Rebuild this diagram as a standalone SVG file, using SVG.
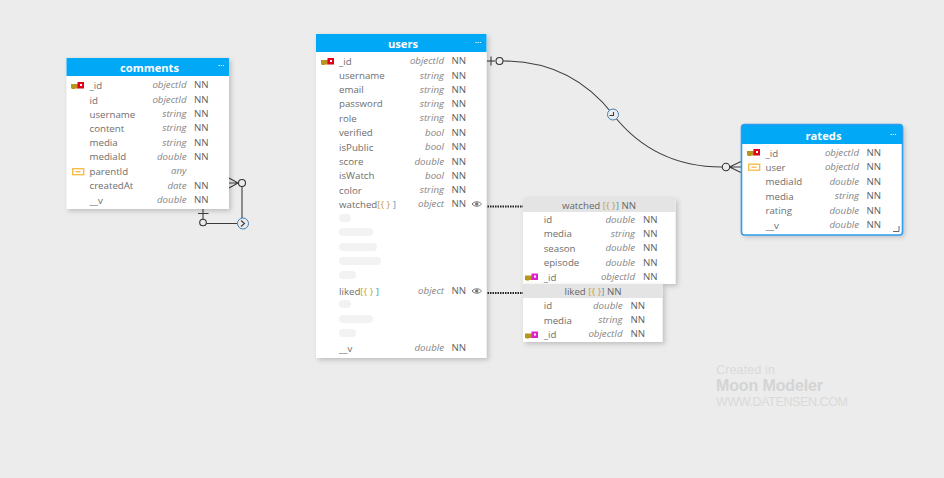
<svg xmlns="http://www.w3.org/2000/svg" width="944" height="478" viewBox="0 0 944 478">
<style>
text{font-family:"Open Sans","Liberation Sans",sans-serif;font-size:9.7px}
.n{fill:#6e6e6e}
.t{fill:#858585;font-style:italic;text-anchor:end}
.k{fill:#5f5f5f}
.h{fill:#fff;font-weight:700;font-size:11.200px;text-anchor:middle}
.s{fill:#666;text-anchor:middle}
.b{fill:#fff}
.hd{fill:#00a8f5}
.sub{fill:#e4e4e4}
.p{fill:#f2f2f2}
.c{fill:none;stroke:#3c3c3c;stroke-width:1.1}
.d{fill:none;stroke:#222;stroke-width:2;stroke-dasharray:1.5 1}
.o{fill:#ececec;stroke:#333;stroke-width:1.1}
.y{fill:#c9a02e}
.w{fill:#dadada;font-family:"Liberation Sans",sans-serif}
</style>
<defs>
<filter id="sh" x="-10%" y="-10%" width="125%" height="125%"><feDropShadow dx="2" dy="2" stdDeviation="2.5" flood-color="#000" flood-opacity=".2"/></filter>
<g id="pk"><rect x="0" y="2" width="7" height="4.500" fill="#b8951f"/><rect x="1" y="5" width="3" height="2" fill="#b8951f"/><rect x="6.500" y="0" width="6.500" height="6.500" fill="#e2001a"/><rect x="9" y="2" width="2" height="2" fill="#fff"/></g>
<g id="pf"><rect x="0" y="2" width="7" height="4.500" fill="#b8951f"/><rect x="1" y="5" width="3" height="2" fill="#b8951f"/><rect x="6.500" y="0" width="6.500" height="6.500" fill="#e020d0"/><rect x="9" y="2" width="2" height="2" fill="#fff"/></g>
<g id="fk"><rect x=".7" y=".7" width="11" height="6" fill="none" stroke="#f5b942" stroke-width="1.300"/><path d="M3.500 3.700h5" stroke="#f5b942" stroke-width="1.300"/></g>
<g id="eye"><path d="M472 0c2.500-3 7-3 9.500 0c-2.500 3-7 3-9.500 0z" fill="none" stroke="#777" stroke-width="1"/><circle cx="476.700" cy="0" r="1.700" fill="#777"/></g>
<g id="dots"><path d="M0 0h1.200M2.200 0h1.200M4.400 0h1.200" stroke="#fff" stroke-width="1"/></g>
</defs>
<rect width="944" height="478" fill="#ececec"/>

<g id="connectors">
<path class="c" d="M487 61H495"/>
<path class="c" d="M491 56.500V65.500"/>
<path class="c" d="M503 61C555 61 590 85 613 114.500C636 144 670 167 722 167"/>
<circle class="o" cx="499.500" cy="61" r="3.500"/>
<circle cx="613" cy="114.500" r="5.500" fill="#ececec" stroke="#3f7fb8" stroke-width="1"/>
<path class="c" d="M609.500 115.500h4v-3.500"/>
<circle class="o" cx="726" cy="167" r="3.700"/>
<path class="c" d="M729.500 167L741 161.500M729.500 167H741M729.500 167L741 172.500"/>
<path class="c" d="M242 187V218M237.500 223.500H206.500"/>
<path class="c" d="M229 178L238 183L229 188M229 183H238"/>
<circle class="o" cx="242" cy="183" r="3.500"/>
<circle cx="243" cy="223.500" r="5.500" fill="#ececec" stroke="#3f7fb8" stroke-width="1"/>
<path class="c" d="M241 220.500l3.500 3-3.500 3"/>
<path class="c" d="M203 209V219M198 213.500H208.500"/>
<circle class="o" cx="203" cy="222.500" r="3.300"/>
<path class="d" d="M487.500 206.500H523"/>
<path class="d" d="M487.500 293H523"/>
</g>

<g id="node-comments">
<rect class="b" x="66.500" y="58" width="162.500" height="151" filter="url(#sh)"/>
<rect class="hd" x="66.500" y="58" width="162.500" height="18"/>
<text class="h" x="149.500" y="72">comments</text>
<use href="#dots" x="218.500" y="65.500"/>
<use href="#pk" x="71" y="82"/>
<use href="#fk" x="72" y="168"/>
<text class="n" x="89.500" y="89">_id</text><text class="t" x="186.500" y="88">objectId</text><text class="k" x="194" y="88">NN</text>
<text class="n" x="89.500" y="103.500">id</text><text class="t" x="186.500" y="102.500">objectId</text><text class="k" x="194" y="102.500">NN</text>
<text class="n" x="89.500" y="117.500">username</text><text class="t" x="186.500" y="117">string</text><text class="k" x="194" y="117">NN</text>
<text class="n" x="89.500" y="131.500">content</text><text class="t" x="186.500" y="131">string</text><text class="k" x="194" y="131">NN</text>
<text class="n" x="89.500" y="146">media</text><text class="t" x="186.500" y="145.500">string</text><text class="k" x="194" y="145.500">NN</text>
<text class="n" x="89.500" y="160">mediaId</text><text class="t" x="186.500" y="159.500">double</text><text class="k" x="194" y="159.500">NN</text>
<text class="n" x="89.500" y="175">parentId</text><text class="t" x="186.500" y="174">any</text>
<text class="n" x="89.500" y="189">createdAt</text><text class="t" x="186.500" y="188.500">date</text><text class="k" x="194" y="188.500">NN</text>
<text class="n" x="89.500" y="204">__v</text><text class="t" x="186.500" y="203">double</text><text class="k" x="194" y="203">NN</text>
</g>

<g id="node-users">
<rect class="b" x="316" y="34" width="170.500" height="324" filter="url(#sh)"/>
<rect class="hd" x="316" y="34" width="170.500" height="18"/>
<text class="h" x="403" y="48">users</text>
<use href="#dots" x="475.500" y="42.500"/>
<use href="#pk" x="321" y="58"/>
<text class="n" x="339" y="65">_id</text><text class="t" x="444" y="64">objectId</text><text class="k" x="451.500" y="64">NN</text>
<text class="n" x="339" y="79">username</text><text class="t" x="444" y="78.500">string</text><text class="k" x="451.500" y="78.500">NN</text>
<text class="n" x="339" y="93">email</text><text class="t" x="444" y="92.500">string</text><text class="k" x="451.500" y="92.500">NN</text>
<text class="n" x="339" y="107">password</text><text class="t" x="444" y="107">string</text><text class="k" x="451.500" y="107">NN</text>
<text class="n" x="339" y="122">role</text><text class="t" x="444" y="121">string</text><text class="k" x="451.500" y="121">NN</text>
<text class="n" x="339" y="136">verified</text><text class="t" x="444" y="135.500">bool</text><text class="k" x="451.500" y="135.500">NN</text>
<text class="n" x="339" y="151">isPublic</text><text class="t" x="444" y="150">bool</text><text class="k" x="451.500" y="150">NN</text>
<text class="n" x="339" y="165">score</text><text class="t" x="444" y="164.500">double</text><text class="k" x="451.500" y="164.500">NN</text>
<text class="n" x="339" y="179">isWatch</text><text class="t" x="444" y="178.500">bool</text><text class="k" x="451.500" y="178.500">NN</text>
<text class="n" x="339" y="194">color</text><text class="t" x="444" y="193">string</text><text class="k" x="451.500" y="193">NN</text>
<text class="n" x="339" y="208">watched<tspan class="y">[{ }</tspan><tspan fill="#3a9fc0"> ]</tspan></text><text class="t" x="444" y="207">object</text><text class="k" x="451.500" y="207">NN</text>
<use href="#eye" y="204"/>
<rect class="p" x="339" y="214" width="12" height="8" rx="4"/>
<rect class="p" x="339" y="228" width="34" height="8" rx="4"/>
<rect class="p" x="339" y="243" width="38" height="8" rx="4"/>
<rect class="p" x="339" y="257" width="42" height="8" rx="4"/>
<rect class="p" x="339" y="271" width="17" height="8" rx="4"/>
<text class="n" x="339" y="295">liked<tspan class="y">[{ }</tspan><tspan fill="#3a9fc0"> ]</tspan></text><text class="t" x="444" y="294">object</text><text class="k" x="451.500" y="294">NN</text>
<use href="#eye" y="291"/>
<rect class="p" x="339" y="300" width="12" height="8" rx="4"/>
<rect class="p" x="339" y="315" width="34" height="8" rx="4"/>
<rect class="p" x="339" y="329" width="17" height="8" rx="4"/>
<text class="n" x="339" y="352">__v</text><text class="t" x="444" y="351">double</text><text class="k" x="451.500" y="351">NN</text>
</g>

<g id="node-watched">
<rect class="b" x="523" y="198" width="152.500" height="86" filter="url(#sh)"/>
<rect class="sub" x="523" y="198" width="152.500" height="14"/>
<text class="s" x="599" y="209">watched <tspan class="y">[{ }</tspan><tspan fill="#3a9fc0">]</tspan> NN</text>
<text class="n" x="543.700" y="223">id</text><text class="t" x="635" y="222.500">double</text><text class="k" x="643" y="222.500">NN</text>
<text class="n" x="543.700" y="237">media</text><text class="t" x="635" y="236.500">string</text><text class="k" x="643" y="236.500">NN</text>
<text class="n" x="543.700" y="251.500">season</text><text class="t" x="635" y="251">double</text><text class="k" x="643" y="251">NN</text>
<text class="n" x="543.700" y="266">episode</text><text class="t" x="635" y="265.500">double</text><text class="k" x="643" y="265.500">NN</text>
<text class="n" x="543.700" y="280.500">_id</text><text class="t" x="635" y="279.500">objectId</text><text class="k" x="643" y="279.500">NN</text>
<use href="#pf" x="525" y="273.500"/>
</g>

<g id="node-liked">
<rect class="b" x="523" y="284" width="139.500" height="58" filter="url(#sh)"/>
<rect class="sub" x="523" y="284" width="139.500" height="14"/>
<text class="s" x="593" y="295">liked <tspan class="y">[{ }</tspan><tspan fill="#3a9fc0">]</tspan> NN</text>
<text class="n" x="543.700" y="309">id</text><text class="t" x="622.500" y="308.500">double</text><text class="k" x="630.500" y="308.500">NN</text>
<text class="n" x="543.700" y="323.500">media</text><text class="t" x="622.500" y="323">string</text><text class="k" x="630.500" y="323">NN</text>
<text class="n" x="543.700" y="338">_id</text><text class="t" x="622.500" y="337">objectId</text><text class="k" x="630.500" y="337">NN</text>
<use href="#pf" x="525" y="331.500"/>
</g>

<g id="node-rateds">
<rect class="b" x="741.500" y="124.500" width="161" height="110.500" rx="3" filter="url(#sh)"/>
<path class="hd" d="M741.500 144V127.500a3 3 0 0 1 3-3H899.500a3 3 0 0 1 3 3V144z"/>
<rect x="741.500" y="124.500" width="161" height="110.500" rx="3" fill="none" stroke="#2d9df0" stroke-width="1.600"/>
<text class="h" x="823.500" y="140">rateds</text>
<use href="#dots" x="890.500" y="134.500"/>
<use href="#pk" x="747" y="149"/>
<use href="#fk" x="748" y="163.500"/>
<text class="n" x="765.500" y="156.500">_id</text><text class="t" x="859" y="155.500">objectId</text><text class="k" x="866.500" y="155.500">NN</text>
<text class="n" x="765.500" y="171">user</text><text class="t" x="859" y="170">objectId</text><text class="k" x="866.500" y="170">NN</text>
<text class="n" x="765.500" y="185">mediaId</text><text class="t" x="859" y="184.500">double</text><text class="k" x="866.500" y="184.500">NN</text>
<text class="n" x="765.500" y="199.500">media</text><text class="t" x="859" y="199">string</text><text class="k" x="866.500" y="199">NN</text>
<text class="n" x="765.500" y="214">rating</text><text class="t" x="859" y="213.500">double</text><text class="k" x="866.500" y="213.500">NN</text>
<text class="n" x="765.500" y="228.500">__v</text><text class="t" x="859" y="227.500">double</text><text class="k" x="866.500" y="227.500">NN</text>
<path d="M893 231.500H899V226" fill="none" stroke="#666" stroke-width="1"/>
</g>

<g id="watermark">
<text class="w" x="716" y="373.500" style="font-size:12.500px" textLength="59">Created in</text>
<text class="w" x="716" y="391" style="font-size:16px;font-weight:700;fill:#d4d4d4" textLength="107">Moon Modeler</text>
<text class="w" x="716" y="406" style="font-size:12.500px" textLength="132">WWW.DATENSEN.COM</text>
</g>
</svg>
